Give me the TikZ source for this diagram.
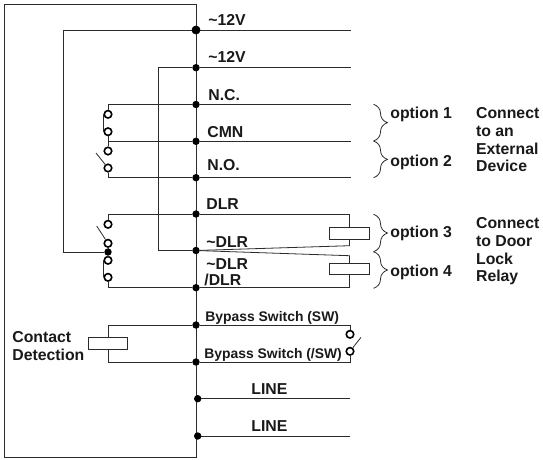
\documentclass[tikz,border=0pt]{standalone}
\usepackage{fontspec}
\setmainfont{Liberation Sans}
\usetikzlibrary{decorations.pathreplacing}
\definecolor{wire}{HTML}{2B2B2B}
\tikzset{
    dot/.style={circle, draw=black, fill=black, inner sep=0pt, minimum size=6.5pt},
    contact/.style={circle, draw=black, fill=white, line width=1.6pt, inner sep=0pt, minimum size=7.5pt},
    coil/.style={rectangle, draw=wire, fill=white, inner sep=0pt, minimum width=39.5pt, minimum height=11.5pt},
    pin/.style={anchor=base west, font=\bfseries\fontsize{15.8}{18}\selectfont, text=black!90, inner sep=0pt},
    smallpin/.style={pin, font=\bfseries\fontsize{13.9}{18}\selectfont},
    note/.style={anchor=base west, font=\bfseries\fontsize{15.8}{17.7}\selectfont, text=black!90, inner sep=0pt, align=left},
    curly/.style={decorate, decoration={brace, amplitude=14pt, aspect=0.5}}
}

\begin{document}
\begin{tikzpicture}
  [
    x                = 1pt,
    y                = -1pt,
    every path/.style = {draw=wire, line width=0.8pt},
  ]
  \useasboundingbox [draw=none] (0,0) rectangle (543,459);
  % module outline, its right side is the bus
  \draw (4,4.5) rectangle (196,457.5);

  % bus dots
  \node [dot, minimum size=8pt] (supplyA) at (196,30) {};
  \node [dot] (supplyB) at (196,67.7) {};
  \node [dot] (nc) at (196,104.5) {};
  \node [dot] (cmn) at (196,141.3) {};
  \node [dot] (no) at (196,177.7) {};
  \node [dot] (dlr) at (196,214) {};
  \node [dot] (ndlr) at (196,250.5) {};
  \node [dot] (sdlr) at (196,287.7) {};
  \node [dot] (sw) at (196,325) {};
  \node [dot] (nsw) at (196,362) {};
  \node [dot] (lineA) at (197.7,398.7) {};
  \node [dot] (lineB) at (197.7,436) {};

  % contacts
  \node [contact] (extA) at (108,114.3) {};
  \node [contact] (extB) at (108,131.7) {};
  \node [contact] (extC) at (108,151) {};
  \node [contact] (extD) at (108,168) {};
  \node [contact] (lockA) at (108,224.3) {};
  \node [contact] (lockB) at (108,243.3) {};
  \node [dot] (lockCom) at (108,252) {};
  \node [contact] (lockC) at (108,260.3) {};
  \node [contact] (lockD) at (108,277.3) {};
  \node [contact] (swA) at (350,334.3) {};
  \node [contact] (swB) at (350,351.3) {};

  % coils
  \node [coil] (relayA) at (349.5,233.3) {};
  \node [coil] (relayB) at (349.5,269) {};
  \node [coil] (detect) at (108,343.5) {};

  % free ends
  \coordinate (endA) at (351,30);
  \coordinate (endB) at (351,67.7);
  \coordinate (endNC) at (351,104.5);
  \coordinate (endCMN) at (351,141.3);
  \coordinate (endNO) at (351,177.7);
  \coordinate (endLineA) at (350,398.7);
  \coordinate (endLineB) at (350,436);
  \coordinate (kneeA) at (349.5,245.7);
  \coordinate (kneeB) at (349.5,255.7);
  \coordinate (armExt) at (96,153);
  \coordinate (armLock) at (96.7,226);
  \coordinate (armSw) at (361,337.3);
  \coordinate (turnA) at (63.5,30);
  \coordinate (turnB) at (63.5,252);
  \coordinate (turnC) at (158,67.7);
  \coordinate (turnD) at (158,250.5);

  % supply
  \draw (supplyA) -- (endA);
  \draw (supplyB) -- (endB);
  \draw (supplyA) -- (turnA) -- (turnB) -- (lockCom);
  \draw (supplyB) -- (turnC) -- (turnD) -- (ndlr);

  % external device
  \draw (nc) -- (endNC);
  \draw (cmn) -- (endCMN);
  \draw (no) -- (endNO);
  \draw (nc) -| (extA);
  \draw (extA.west) -- (extB.west);
  \draw (extB) -- (extC);
  \draw (cmn) -- (cmn -| extB);
  \draw (no) -| (extD);
  \draw (armExt) -- (extD);

  % door lock
  \draw (dlr) -| (lockA);
  \draw (lockB) -- (lockCom) -- (lockC);
  \draw (lockC.west) -- (lockD.west);
  \draw (sdlr) -| (lockD);
  \draw (armLock) -- (lockB);
  \draw (dlr) -| (relayA);
  \draw (ndlr) -- (kneeA) -- (relayA);
  \draw (ndlr) -- (kneeB) -- (relayB);
  \draw (sdlr) -| (relayB);

  % bypass switch
  \draw (sw) -| (swA);
  \draw (nsw) -| (swB);
  \draw (armSw) -- (swB);
  \draw (sw) -| (detect);
  \draw (nsw) -| (detect);

  % line
  \draw (lineA) -- (endLineA);
  \draw (lineB) -- (endLineB);

  % braces
  \coordinate (optA) at (373.5,104.3);
  \coordinate (optB) at (373.5,141);
  \coordinate (optC) at (373.5,177.7);
  \coordinate (optD) at (373.5,214.3);
  \coordinate (optE) at (373.5,251.7);
  \coordinate (optF) at (373.5,288.3);
  \draw [curly] (optA) -- (optB);
  \draw [curly] (optB) -- (optC);
  \draw [curly] (optD) -- (optE);
  \draw [curly] (optE) -- (optF);

  % labels
  \node [pin] (lblA) at (208,25.7) {\char"007E 12V};
  \node [pin] (lblB) at (208,62.3) {\char"007E 12V};
  \node [pin] (lblNC) at (208,100) {N.C.};
  \node [pin] (lblCMN) at (207,137) {CMN};
  \node [pin] (lblNO) at (207,170.7) {N.O.};
  \node [pin] (lblDLR) at (206,209) {DLR};
  \node [pin] (lblNDLR) at (206,247.3) {\char"007E DLR};
  \node [pin] (lblNDLRb) at (206,269) {\char"007E DLR};
  \node [pin] (lblSDLR) at (204,285.7) {/DLR};
  \node [smallpin] (lblSW) at (205,321.7) {Bypass Switch (SW)};
  \node [smallpin] (lblNSW) at (204,358.3) {Bypass Switch (/SW)};
  \node [pin] (lblLineA) at (251,394) {LINE};
  \node [pin] (lblLineB) at (251,431.7) {LINE};
  \node [note] (lblDetect) at (12,360) {Contact\\Detection};
  \node [pin] (lblOptA) at (390,118.3) {option 1};
  \node [pin] (lblOptB) at (390,166) {option 2};
  \node [pin] (lblOptC) at (390,237.7) {option 3};
  \node [pin] (lblOptD) at (390,276.7) {option 4};
  \node [note] (lblExt) at (475.7,171.7) {Connect\\to an\\External\\Device};
  \node [note] (lblDoor) at (475.7,281.7) {Connect\\to Door\\Lock\\Relay};
\end{tikzpicture}
\end{document}
